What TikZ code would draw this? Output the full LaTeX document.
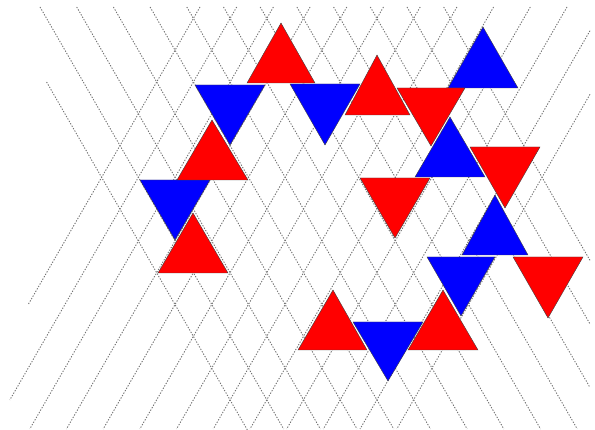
\documentclass[tikz,border=0pt]{standalone}
\begin{document}
\begin{tikzpicture}[x=1pt,y=-1pt,
  lat/.style={draw=black!55, line width=0.9pt, dash pattern=on 1.3pt off 1.5pt},
  redtri/.style={fill=red, draw=black!75, line width=0.4pt, line join=miter},
  bluetri/.style={fill=blue, draw=black!75, line width=0.4pt, line join=miter}]
\useasboundingbox (0,0) rectangle (595,430);
% lines going down-right
\draw[lat] (46.6,82) -- (247.4,430);
\foreach \k in {0,...,11}{
  \pgfmathsetmacro{\X}{40+36.7*\k}
  \pgfmathsetmacro{\ye}{min(429,7+(590-\X)*1.73205)}
  \pgfmathsetmacro{\xe}{\X+0.57735*(\ye-7)}
  \draw[lat] (\X,7) -- (\xe,\ye);
}
% lines going down-left
\foreach \m/\ye in {0/304,1/400,2/429,3/429,4/429,5/429,6/429,7/429,8/429,9/429,10/429,11/429,12/429}{
  \pgfmathsetmacro{\Y}{200+36.7*\m}
  \pgfmathsetmacro{\ys}{max(7,7+(\Y-590)*1.73205)}
  \pgfmathsetmacro{\xs}{\Y-0.57735*(\ys-7)}
  \pgfmathsetmacro{\xe}{\Y-0.57735*(\ye-7)}
  \draw[lat] (\xs,\ys) -- (\xe,\ye);
}
% blue triangles
\filldraw[bluetri] (195,85) -- (265,85) -- (230,145) -- cycle;
\filldraw[bluetri] (290,84) -- (360,84) -- (325,145) -- cycle;
\filldraw[bluetri] (448,88) -- (518,88) -- (483,27) -- cycle;
\filldraw[bluetri] (415,177) -- (485,177) -- (450,117) -- cycle;
\filldraw[bluetri] (462,255) -- (528,255) -- (495,195) -- cycle;
\filldraw[bluetri] (427,257) -- (495,257) -- (461,316) -- cycle;
\filldraw[bluetri] (353,322) -- (423,322) -- (388,381) -- cycle;
\filldraw[bluetri] (140,180) -- (210,180) -- (175,240) -- cycle;
% red triangles
\filldraw[redtri] (247,83) -- (315,83) -- (281,23) -- cycle;
\filldraw[redtri] (345,115) -- (410,115) -- (377,55) -- cycle;
\filldraw[redtri] (397,88) -- (465,88) -- (431,146) -- cycle;
\filldraw[redtri] (470,147) -- (540,147) -- (505,208) -- cycle;
\filldraw[redtri] (360,178) -- (430,178) -- (395,238) -- cycle;
\filldraw[redtri] (513,257) -- (583,257) -- (548,318) -- cycle;
\filldraw[redtri] (298,350) -- (367,350) -- (333,290) -- cycle;
\filldraw[redtri] (408,350) -- (478,350) -- (443,290) -- cycle;
\filldraw[redtri] (177,180) -- (248,180) -- (212,120) -- cycle;
\filldraw[redtri] (158,273) -- (228,273) -- (193,213) -- cycle;
\end{tikzpicture}
\end{document}
